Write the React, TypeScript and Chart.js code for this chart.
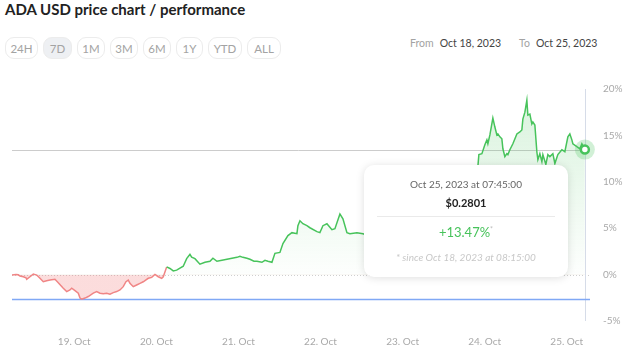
import React, { useEffect, useRef } from 'react';
import { Chart, registerables } from 'chart.js';

Chart.register(...registerables);

// hours since Oct 18, 2023 08:15:00
const times = [
  0, 1.17, 1.84, 2.34, 3.3, 4.09, 4.3, 5.26, 6.23, 7.22, 8.18, 9.15, 10.14, 11.11, 12.57, 13.53,
  15.0, 16.0, 16.95, 17.45, 18.42, 19.38, 19.88, 20.37, 21.34, 22.3, 23.77, 24.76, 25.72, 26.69,
  27.68, 28.65, 29.61, 30.6, 31.57, 32.53, 33.32, 34.0, 34.49, 35.46, 36.45, 37.42, 38.38, 39.08,
  39.84, 40.84, 41.8, 42.77, 43.76, 44.23, 45.22, 46.19, 47.15, 48.14, 50.07, 51.07, 52.03, 52.53,
  53.49, 54.95, 56.42, 57.88, 58.75, 59.92, 61.38, 62.85, 64.31, 65.77, 66.65, 67.52, 68.69, 69.57,
  70.74, 71.62, 73.08, 73.96, 74.83, 76.0, 76.88, 78.34, 79.22, 80.68, 81.85, 83.31, 83.6, 84.19,
  85.06, 86.23, 87.11, 89.16, 90.03, 90.91, 92.08, 93.54, 94.42, 95.88, 96.76, 97.93, 98.8, 100.85,
  102.6, 105.23, 109.03, 113.42, 117.8, 122.19, 126.57, 130.96, 134.46, 135.63, 136.22, 136.51,
  137.39, 138.26, 138.85, 139.14, 139.73, 140.6, 141.19, 141.77, 142.06, 142.65, 143.23, 143.53,
  144.11, 144.69, 144.99, 145.57, 146.45, 147.62, 148.49, 149.08, 149.37, 149.96, 150.54, 150.83,
  151.42, 152.0, 152.3, 152.88, 153.46, 153.76, 154.34, 154.93, 155.22, 156.09, 156.68, 157.26,
  158.14, 158.73, 159.6, 160.77, 161.65, 162.53, 163.11, 163.7, 163.99, 165.16, 166.03, 166.62, 167.5,
];

// performance in % since start
const values = [
  -0.05, 0.02, -0.02, -0.16, -0.23, -0.34, -0.51, -0.23, 0.05, -0.05, -0.4, -0.77, -0.66, -0.59, -0.51, -0.87,
  -1.47, -1.83, -1.65, -1.47, -1.72, -2.0, -2.53, -2.64, -2.53, -2.36, -2.0, -1.83, -2.0, -2.07,
  -2.0, -2.11, -1.94, -1.83, -1.65, -1.3, -0.77, -0.59, -0.94, -1.3, -1.12, -0.94, -0.77, -0.59,
  -0.4, -0.3, 0.02, -0.23, -0.4, -0.23, 0.83, 0.66, 0.4, 0.48, 0.9, 1.72, 2.18, 1.89,
  1.72, 1.12, 1.33, 1.44, 1.76, 1.44, 1.54, 1.65, 1.76, 1.86, 1.97, 1.86, 1.76, 1.65,
  1.44, 1.44, 1.33, 1.54, 1.44, 1.33, 2.29, 2.39, 3.35, 4.2, 4.52, 4.41, 5.27, 5.8,
  5.48, 5.27, 5.05, 4.63, 4.52, 5.27, 5.48, 4.84, 4.95, 6.54, 6.01, 4.52, 4.41, 4.52,
  4.41, 4.1, 4.41, 3.99, 4.52, 4.2, 4.73, 4.41, 4.84, 5.16, 11.65, 12.93,
  13.03, 13.99, 14.52, 14.1, 15.05, 16.86, 15.9, 15.05, 15.16, 14.84, 14.63, 13.56,
  12.71, 13.03, 12.93, 13.46, 14.1, 15.16, 15.37, 15.59, 16.76, 17.5, 18.78, 17.18,
  17.29, 16.22, 16.44, 16.12, 13.24, 12.39, 13.03, 12.18, 12.93, 11.86, 12.93, 12.71,
  13.03, 11.97, 12.93, 13.46, 13.24, 14.84, 15.16, 14.52, 14.1, 13.78, 13.56, 14.1, 13.47,
];

const xTickHours = [18.2, 42.2, 66.2, 90.2, 114.2, 138.2, 162.2];
const xTickLabels = ['19. Oct', '20. Oct', '21. Oct', '22. Oct', '23. Oct', '24. Oct', '25. Oct'];
const yTickValues = [-5, 0, 5, 10, 15, 20];

const ranges = ['24H', '7D', '1M', '3M', '6M', '1Y', 'YTD', 'ALL'];
const rangeWidths = [33, 29, 28, 28, 28, 27, 34, 34];
const activeRange = '7D';

const GREEN = '#47c35b';
const RED = '#f08585';
const FONT = 'Lato, "Open Sans", sans-serif';

const overlayPlugin = {
  id: 'overlay',
  beforeDatasetsDraw(chart: any) {
    const { ctx, chartArea: a, scales } = chart;
    const x = scales.x;
    const y = scales.y;
    const lastX = Math.round(x.getPixelForValue(times[times.length - 1])) + 0.5;
    const lastY = Math.round(y.getPixelForValue(values[values.length - 1])) + 0.5;
    const minY = Math.round(y.getPixelForValue(Math.min(...values))) + 0.5;
    const zeroY = Math.round(y.getPixelForValue(0)) + 0.5;
    const seg = (x1: number, y1: number, x2: number, y2: number) => {
      ctx.beginPath();
      ctx.moveTo(x1, y1);
      ctx.lineTo(x2, y2);
      ctx.stroke();
    };
    ctx.save();
    ctx.lineWidth = 1;
    ctx.strokeStyle = '#cfcfcf';
    ctx.setLineDash([1, 2]);
    seg(a.left, zeroY, a.right, zeroY);
    ctx.setLineDash([]);
    ctx.strokeStyle = '#cccccc';
    seg(a.left, lastY, lastX, lastY);
    ctx.strokeStyle = '#d6dce8';
    seg(lastX, a.top, lastX, a.bottom);
    ctx.strokeStyle = '#80a8f5';
    ctx.lineWidth = 1.6;
    seg(a.left, minY, a.right, minY);
    ctx.restore();
  },
  afterDatasetsDraw(chart: any) {
    const { ctx, scales } = chart;
    const px = scales.x.getPixelForValue(times[times.length - 1]);
    const py = scales.y.getPixelForValue(values[values.length - 1]);
    ctx.save();
    ctx.fillStyle = 'rgba(71,195,91,0.25)';
    ctx.beginPath();
    ctx.arc(px, py, 10, 0, Math.PI * 2);
    ctx.fill();
    ctx.fillStyle = '#ffffff';
    ctx.strokeStyle = GREEN;
    ctx.lineWidth = 2.5;
    ctx.beginPath();
    ctx.arc(px, py, 4, 0, Math.PI * 2);
    ctx.fill();
    ctx.stroke();
    ctx.restore();
  },
};

function ChartCanvas() {
  const ref = useRef<HTMLCanvasElement>(null);
  useEffect(() => {
    if (!ref.current) return;
    const chart = new Chart(ref.current, {
      type: 'line',
      data: {
        datasets: [
          {
            data: times.map((t, i) => ({ x: t, y: values[i] })),
            borderWidth: 1.5,
            pointRadius: 0,
            tension: 0,
            fill: { target: { value: 0 } },
            backgroundColor: (context: any) => {
              const c = context.chart;
              const a = c.chartArea;
              if (!a) return 'rgba(0,0,0,0)';
              const y0 = c.scales.y.getPixelForValue(0);
              const yTop = c.scales.y.getPixelForValue(Math.max(...values));
              const g = c.ctx.createLinearGradient(0, yTop, 0, a.bottom);
              const f = Math.min(1, Math.max(0, (y0 - yTop) / (a.bottom - yTop)));
              g.addColorStop(0, 'rgba(71,195,91,0.20)');
              g.addColorStop(Math.max(0, f - 0.001), 'rgba(71,195,91,0.01)');
              g.addColorStop(f, 'rgba(240,110,110,0.24)');
              g.addColorStop(1, 'rgba(240,110,110,0.24)');
              return g;
            },
            segment: {
              borderColor: (ctx: any) =>
                ctx.p0.parsed.y < 0 || ctx.p1.parsed.y < 0 ? RED : GREEN,
            },
          } as any,
        ],
      },
      options: {
        animation: false,
        responsive: false,
        devicePixelRatio: 1,
        events: [],
        layout: { padding: { left: 12, top: 10, right: 0, bottom: 0 } },
        plugins: { legend: { display: false }, tooltip: { enabled: false } },
        scales: {
          x: {
            type: 'linear',
            min: 0,
            max: 169,
            grid: { display: false, drawTicks: false },
            border: { display: false },
            afterBuildTicks: (s: any) => {
              s.ticks = xTickHours.map((v) => ({ value: v }));
            },
            afterFit: (s: any) => {
              s.height = 34;
            },
            ticks: {
              padding: 15,
              color: '#a9a9a9',
              font: { family: FONT, size: 10 },
              maxRotation: 0,
              autoSkip: false,
              callback: (v: any) => {
                const i = xTickHours.indexOf(Number(v));
                return i >= 0 ? xTickLabels[i] : '';
              },
            },
          },
          y: {
            position: 'right',
            min: -5,
            max: 20,
            grid: { display: false, drawTicks: false },
            border: { display: false },
            afterBuildTicks: (s: any) => {
              s.ticks = yTickValues.map((v) => ({ value: v }));
            },
            afterFit: (s: any) => {
              s.width = 45;
            },
            ticks: {
              padding: 13,
              color: '#a9a9a9',
              font: { family: FONT, size: 10 },
              callback: (v: any) => `${v}%`,
            },
          },
        },
      },
      plugins: [overlayPlugin],
    });
    return () => chart.destroy();
  }, []);
  return (
    <canvas
      ref={ref}
      width={635}
      height={285}
      style={{ position: 'absolute', left: 0, top: 70, width: 635, height: 285 }}
    />
  );
}

export default function App() {
  return (
    <div
      style={{
        position: 'absolute',
        left: 0,
        top: 0,
        width: 635,
        height: 355,
        background: '#fff',
        fontFamily: FONT,
        overflow: 'hidden',
      }}
    >
      <div
        style={{
          position: 'absolute',
          left: 5,
          top: 0,
          fontSize: 15,
          fontWeight: 700,
          color: '#222',
          lineHeight: '18px',
          whiteSpace: 'nowrap',
        }}
      >
        ADA USD price chart / performance
      </div>
      <div style={{ position: 'absolute', left: 5, top: 37, display: 'flex', gap: 5 }}>
        {ranges.map((r, i) => (
          <div
            key={r}
            style={{
              width: rangeWidths[i],
              height: 22,
              boxSizing: 'border-box',
              border: '1px solid #ececec',
              borderRadius: 9,
              background: r === activeRange ? '#eef0f3' : '#fff',
              color: '#a3a3a3',
              fontSize: 11.5,
              display: 'flex',
              alignItems: 'center',
              justifyContent: 'center',
            }}
          >
            {r}
          </div>
        ))}
      </div>
      <div
        style={{
          position: 'absolute',
          left: 410,
          top: 35,
          fontSize: 10.5,
          lineHeight: '16px',
          whiteSpace: 'nowrap',
          color: '#444',
        }}
      >
        <span style={{ color: '#a3a3a3' }}>From</span>
        <span style={{ marginLeft: 6 }}>Oct 18, 2023</span>
        <span style={{ color: '#a3a3a3', marginLeft: 18 }}>To</span>
        <span style={{ marginLeft: 6 }}>Oct 25, 2023</span>
      </div>
      <ChartCanvas />
      <div
        style={{
          position: 'absolute',
          left: 364,
          top: 165,
          width: 204,
          height: 112,
          background: '#fff',
          borderRadius: 10,
          boxShadow: '0 1px 8px rgba(0,0,0,0.13)',
          textAlign: 'center',
          whiteSpace: 'nowrap',
        }}
      >
        <div style={{ position: 'absolute', left: 0, right: 0, top: 13, fontSize: 10, color: '#666' }}>
          Oct 25, 2023 at 07:45:00
        </div>
        <div style={{ position: 'absolute', left: 0, right: 0, top: 31, fontSize: 11, fontWeight: 700, color: '#222' }}>
          $0.2801
        </div>
        <div style={{ position: 'absolute', left: 13, right: 13, top: 51, height: 1, background: '#eaeaea' }} />
        <div style={{ position: 'absolute', left: 0, right: 0, top: 59, fontSize: 13, color: GREEN }}>
          +13.47%<sup style={{ fontSize: 7, color: '#bbb', verticalAlign: 'super' }}>*</sup>
        </div>
        <div
          style={{
            position: 'absolute',
            left: 0,
            right: 0,
            top: 86,
            fontSize: 10,
            fontStyle: 'italic',
            color: '#c8c8c8',
          }}
        >
          * since Oct 18, 2023 at 08:15:00
        </div>
      </div>
    </div>
  );
}
